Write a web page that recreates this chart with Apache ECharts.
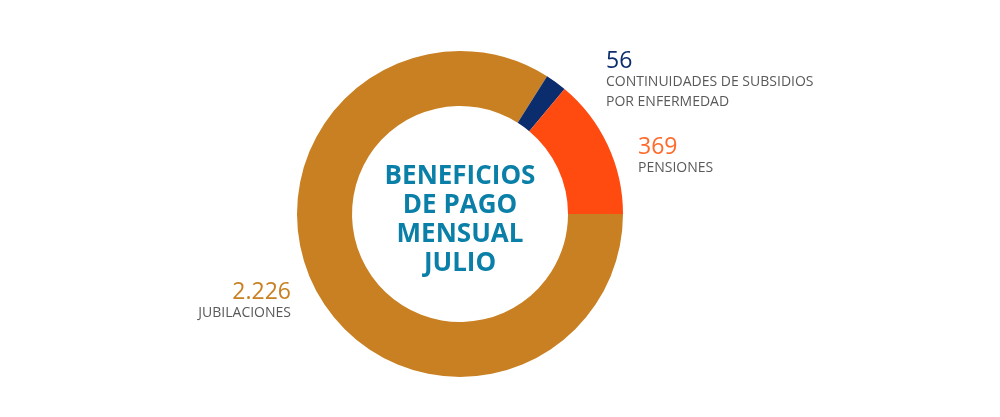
<!DOCTYPE html>
<html>
<head>
<meta charset="utf-8">
<script src="https://cdn.jsdelivr.net/npm/echarts@6/dist/echarts.min.js"></script>
<style>
  html, body { margin: 0; padding: 0; background: #fff; }
  #chart { width: 1000px; height: 417px; }
</style>
</head>
<body>
<div id="chart"></div>
<script>
// beneficios de pago mensual, julio
var categories = ["JUBILACIONES", "CONTINUIDADES DE SUBSIDIOS\nPOR ENFERMEDAD", "PENSIONES"];
var values = [2226, 56, 369];
var colors = ["#C98022", "#0B2D6E", "#FF4A10"];
var valueColors = ["#C98022", "#0B2D6E", "#FF6A2A"];
var centerTitle = "BENEFICIOS\nDE PAGO\nMENSUAL\nJULIO";

function fmt(n) {
  return String(n).replace(/\B(?=(\d{3})+(?!\d))/g, ".");
}

// where each label sits (left/top corner, or right edge for the first one)
var labelSpots = [
  { x: 291, y: 281, align: "right" },
  { x: 606, y: 50, align: "left" },
  { x: 638, y: 136, align: "left" }
];

var chart = echarts.init(document.getElementById("chart"));

var data = values.map(function (v, i) {
  return {
    value: v,
    name: categories[i],
    itemStyle: { color: colors[i] },
    label: {
      align: labelSpots[i].align,
      rich: {
        v: { fontSize: 23, color: valueColors[i], fontFamily: "Open Sans", lineHeight: 22, align: labelSpots[i].align },
        n: { fontSize: 14, color: "#595959", fontFamily: "Open Sans", lineHeight: 20, align: labelSpots[i].align }
      }
    }
  };
});

var option = {
  animation: false,
  title: {
    text: centerTitle,
    left: 455,
    top: 215,
    textAlign: "center",
    textVerticalAlign: "middle",
    textStyle: {
      fontFamily: "Open Sans",
      fontWeight: "bold",
      fontSize: 26,
      lineHeight: 29,
      color: "#0A7FA8"
    }
  },
  series: [
    {
      type: "pie",
      center: [460, 214],
      radius: [108, 163],
      startAngle: 0,
      clockwise: true,
      silent: true,
      data: data,
      labelLine: { show: false },
      label: {
        show: true,
        position: "outside",
        formatter: function (p) {
          var lines = p.name.split("\n").map(function (l) { return "{n|" + l + "}"; });
          return "{v|" + fmt(p.value) + "}\n" + lines.join("\n");
        }
      },
      labelLayout: function (params) {
        var s = labelSpots[params.dataIndex];
        return { x: s.x, y: s.y, align: s.align, verticalAlign: "top", hideOverlap: false };
      }
    }
  ]
};

chart.setOption(option);
</script>
</body>
</html>
